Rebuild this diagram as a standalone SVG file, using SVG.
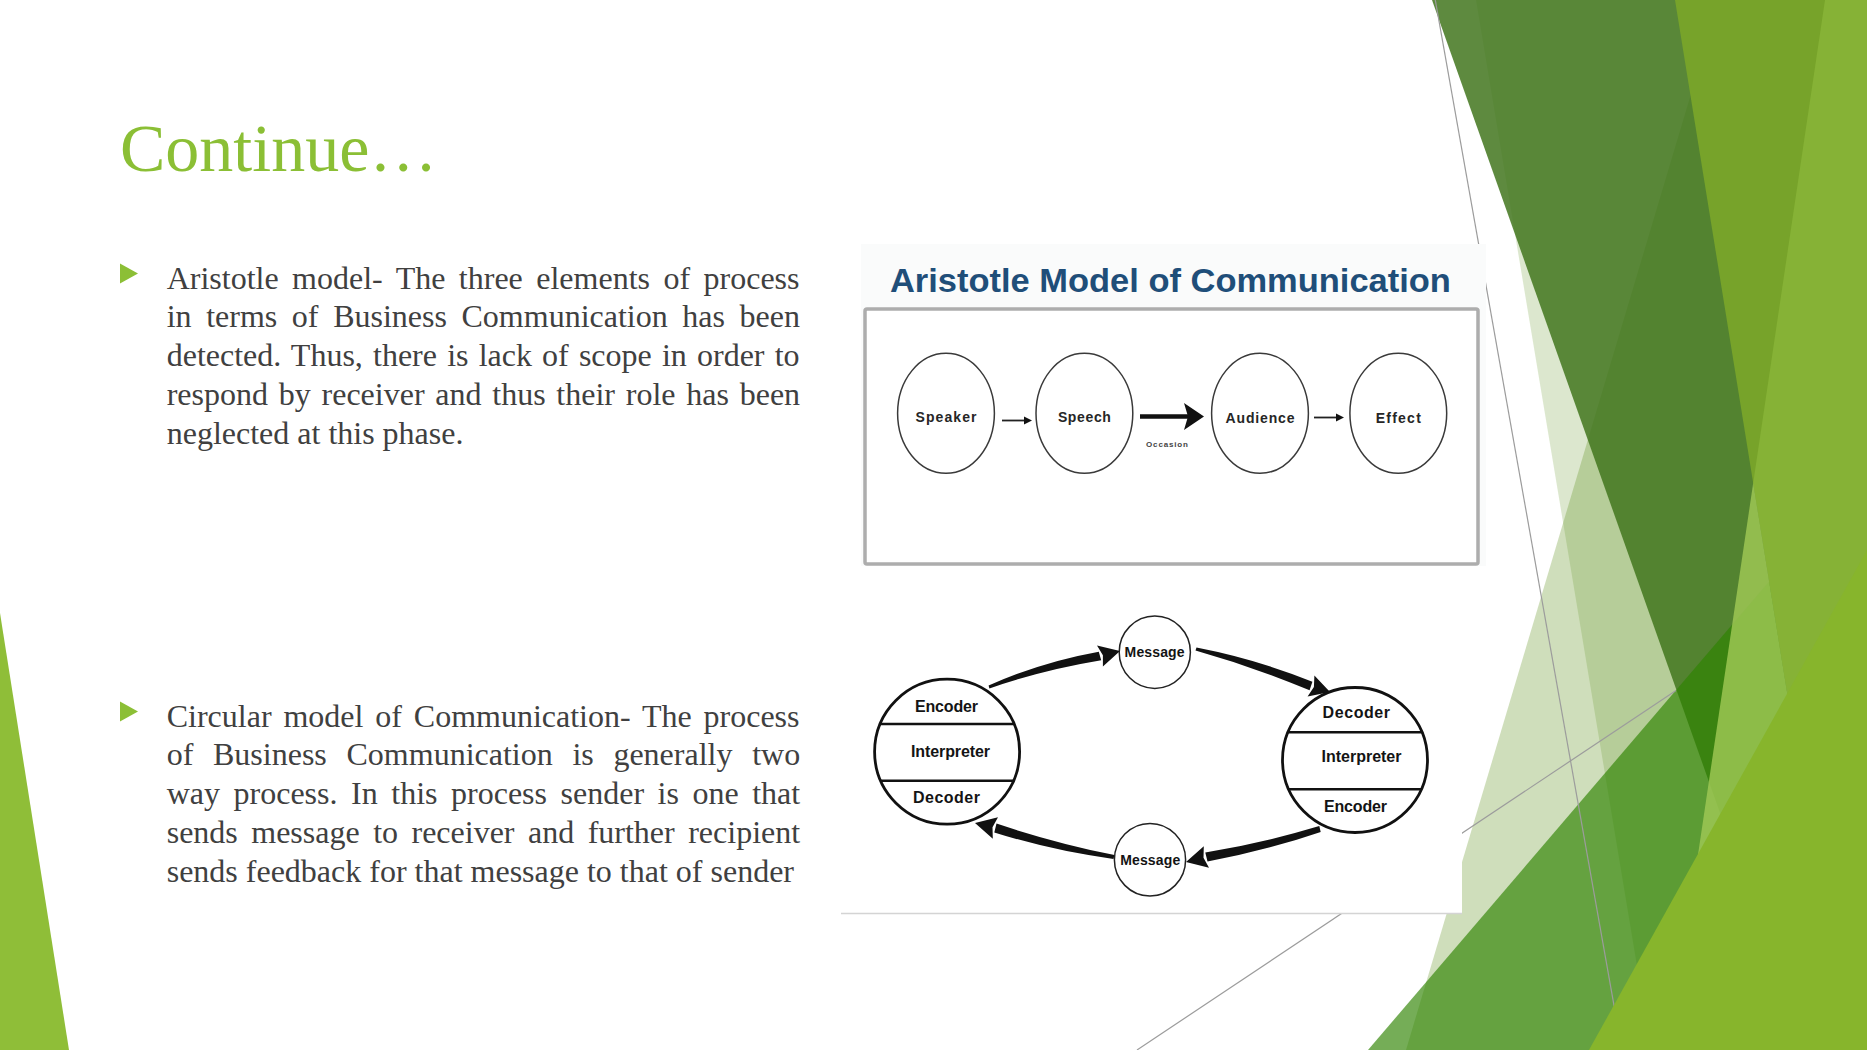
<svg xmlns="http://www.w3.org/2000/svg" width="1867" height="1050" viewBox="0 0 1867 1050">
<defs>
<style>
.body{font-family:"Liberation Serif","Times New Roman",serif;font-size:32px;fill:#404040}
.title{font-family:"Liberation Serif","Times New Roman",serif;font-size:68px;fill:#8bbf35}
.bullet{fill:#8cbf36}
.thin{stroke:#9c9c9c;stroke-width:1.2;fill:none}
.aNode{fill:#fff;stroke:#3a3a3a;stroke-width:1.5}
.aLbl{font-family:"Liberation Sans",Arial,sans-serif;font-weight:bold;font-size:14px;fill:#262626;text-anchor:middle}
.cNode{fill:#fff;stroke:#111;stroke-width:2.8}
.cDiv{stroke:#111;stroke-width:2.6}
.cLbl{font-family:"Liberation Sans",Arial,sans-serif;font-weight:bold;font-size:16px;fill:#141414;text-anchor:middle}
.mNode{fill:#fff;stroke:#222;stroke-width:1.5}
.mLbl{font-family:"Liberation Sans",Arial,sans-serif;font-weight:bold;font-size:14px;fill:#141414;text-anchor:middle}
.ink{fill:#111;stroke:none}
.aLine{stroke:#222;stroke-width:1.8;fill:none}
</style>
</defs>
<rect x="0" y="0" width="1867" height="1050" fill="#ffffff"/>
<g id="background">
<polygon points="0,613 69,1050 0,1050" fill="#8fbe38"/>
<polygon points="1476,0 1867,0 1867,1050 1651,1050" fill="rgb(95,145,30)" fill-opacity="0.22"/>
<polygon points="1719,0 1867,0 1867,1050 1406,1050" fill="rgb(95,145,30)" fill-opacity="0.30"/>
<polygon points="1432,0 1867,0 1867,1050 1804,1050" fill="rgb(66,118,29)" fill-opacity="0.85"/>
<polygon points="1368,1050 1867,467 1867,1050" fill="rgb(45,130,0)" fill-opacity="0.66"/>
<path class="thin" d="M1435,-1.5 L1621.7,1048.7"/>
<path class="thin" d="M1137,1050 L1676,690.5"/>
<polygon points="1675,0 1867,0 1867,1050 1845,1050" fill="#77a32a"/>
<polygon points="1825,0 1867,0 1867,1050 1845,1050 1753.2,483.1" fill="#86b236"/>
<polygon points="1753.2,483.1 1845,1050 1669,1050" fill="rgb(160,200,85)" fill-opacity="0.82"/>
<polygon points="1589,1050 1867,550 1867,1050" fill="#87b52c"/>
</g>
<g id="title"><text class="title" x="120" y="171">Continue…</text></g>
<g id="bullet-aristotle">
<polygon class="bullet" points="120,263.5 138,273.5 120,283.5"/>
<text class="body" x="166.7" y="288.5" word-spacing="5.45">Aristotle model- The three elements of process</text>
<text class="body" x="166.7" y="327.3" word-spacing="6.6">in terms of Business Communication has been</text>
<text class="body" x="166.7" y="366" word-spacing="2.16">detected. Thus, there is lack of scope in order to</text>
<text class="body" x="166.7" y="404.8" word-spacing="2.76">respond by receiver and thus their role has been</text>
<text class="body" x="166.7" y="443.5">neglected at this phase.</text>
</g>
<g id="bullet-circular">
<polygon class="bullet" points="120,701.5 138,711.5 120,721.5"/>
<text class="body" x="166.7" y="726.7" word-spacing="3.87">Circular model of Communication- The process</text>
<text class="body" x="166.7" y="765.4" word-spacing="11.68">of Business Communication is generally two</text>
<text class="body" x="166.7" y="804.1" word-spacing="5.54">way process. In this process sender is one that</text>
<text class="body" x="166.7" y="842.8" word-spacing="5.47">sends message to receiver and further recipient</text>
<text class="body" x="166.7" y="881.5">sends feedback for that message to that of sender</text>
</g>
<g id="aristotle-picture">
<rect x="861" y="244" width="625" height="322" fill="#fafbfb"/>
<text x="1170.4" y="291.7" font-family="Liberation Sans, Arial, sans-serif" font-weight="bold" font-size="33.4" fill="#1f4e79" text-anchor="middle" textLength="561" lengthAdjust="spacingAndGlyphs">Aristotle Model of Communication</text>
<rect x="865" y="309" width="613" height="255" rx="2" fill="#ffffff" stroke="#adadad" stroke-width="3.5"/>
<g id="node-speaker"><ellipse class="aNode" cx="946" cy="413.3" rx="48.4" ry="60"/><text class="aLbl" x="946" y="421.7" textLength="61" lengthAdjust="spacing">Speaker</text></g>
<g id="node-speech"><ellipse class="aNode" cx="1084.4" cy="413.3" rx="48.4" ry="60"/><text class="aLbl" x="1084.4" y="421.7" textLength="53" lengthAdjust="spacing">Speech</text></g>
<g id="node-audience"><ellipse class="aNode" cx="1260" cy="413.3" rx="48.4" ry="60"/><text class="aLbl" x="1260" y="423.3" textLength="69" lengthAdjust="spacing">Audience</text></g>
<g id="node-effect"><ellipse class="aNode" cx="1398.3" cy="413.3" rx="48.4" ry="60"/><text class="aLbl" x="1398.3" y="423.3" textLength="45" lengthAdjust="spacing">Effect</text></g>
<g id="aristotle-connectors">
<path class="aLine" d="M1002,420.5 L1026,420.5"/>
<polygon class="ink" points="1032,420.5 1024,416.5 1024,424.5"/>
<path d="M1140,416.5 L1188,416.5" stroke="#111" stroke-width="4.3"/>
<polygon class="ink" points="1204,416.5 1184,403 1188,416.5 1184,430"/>
<text x="1167" y="446.5" font-family="Liberation Sans, Arial, sans-serif" font-weight="bold" font-size="8" fill="#444" text-anchor="middle" textLength="42" lengthAdjust="spacing">Occasion</text>
<path class="aLine" d="M1314,417.5 L1338,417.5"/>
<polygon class="ink" points="1344,417.5 1336,413.5 1336,421.5"/>
</g>
</g>
<g id="circular-picture">
<rect x="841" y="601" width="621" height="313" fill="#ffffff"/>
<path d="M841,913.5 L1462,913.5" stroke="#d4d4d4" stroke-width="1.5"/>
<g id="node-sender">
<circle class="cNode" cx="947.1" cy="751.7" r="72.5"/>
<path class="cDiv" d="M880.1,724 L1014.1,724 M880.7,780.7 L1013.5,780.7"/>
<text class="cLbl" x="946.5" y="711.7" textLength="63" lengthAdjust="spacing">Encoder</text>
<text class="cLbl" x="950.5" y="756.7" textLength="79" lengthAdjust="spacing">Interpreter</text>
<text class="cLbl" x="946.5" y="802.7" textLength="67" lengthAdjust="spacing">Decoder</text>
</g>
<g id="node-receiver">
<circle class="cNode" cx="1355" cy="760" r="72.5"/>
<path class="cDiv" d="M1288,732.3 L1422,732.3 M1288.7,789.3 L1421.3,789.3"/>
<text class="cLbl" x="1356.3" y="718.3" textLength="67.5" lengthAdjust="spacing">Decoder</text>
<text class="cLbl" x="1361.5" y="762.3" textLength="80" lengthAdjust="spacing">Interpreter</text>
<text class="cLbl" x="1355.5" y="811.7" textLength="63" lengthAdjust="spacing">Encoder</text>
</g>
<g id="node-message-top">
<ellipse class="mNode" cx="1154.8" cy="652.2" rx="35.6" ry="36.2"/>
<text class="mLbl" x="1154.6" y="657.3" textLength="60" lengthAdjust="spacing">Message</text>
</g>
<g id="node-message-bottom">
<ellipse class="mNode" cx="1150" cy="859.7" rx="35.6" ry="36.3"/>
<text class="mLbl" x="1150.2" y="865" textLength="60" lengthAdjust="spacing">Message</text>
</g>
<g id="circular-connectors">
<path class="ink" d="M989.4,688.4 Q1043.1,669.9 1101.2,660.3 L1098.8,651.7 Q1040.9,662.1 988.6,685.6 Z"/>
<polygon class="ink" points="1120,651 1102.9,666.5 1102.9,655.2 1097,645.4"/>
<path class="ink" d="M1195.5,650.4 Q1253.8,666.8 1309.6,690.3 L1312.4,681.7 Q1256.2,659.2 1196.5,647.6 Z"/>
<polygon class="ink" points="1330,692 1307.6,696.5 1313.9,686.9 1314.4,675.5"/>
<path class="ink" d="M1319.3,826.1 Q1263,843.1 1205.3,852.6 L1207.5,861.4 Q1265,850.9 1320.7,831.9 Z"/>
<polygon class="ink" points="1186,862 1203.8,846.3 1203.5,857.7 1209,867.7"/>
<path class="ink" d="M1114.5,855.1 Q1055,843.1 996.5,823.6 L994.3,832.4 Q1053,850.9 1113.5,858.9 Z"/>
<polygon class="ink" points="975,823 998,817.3 992.5,827.3 992.8,838.7"/>
</g>
</g>
</svg>
